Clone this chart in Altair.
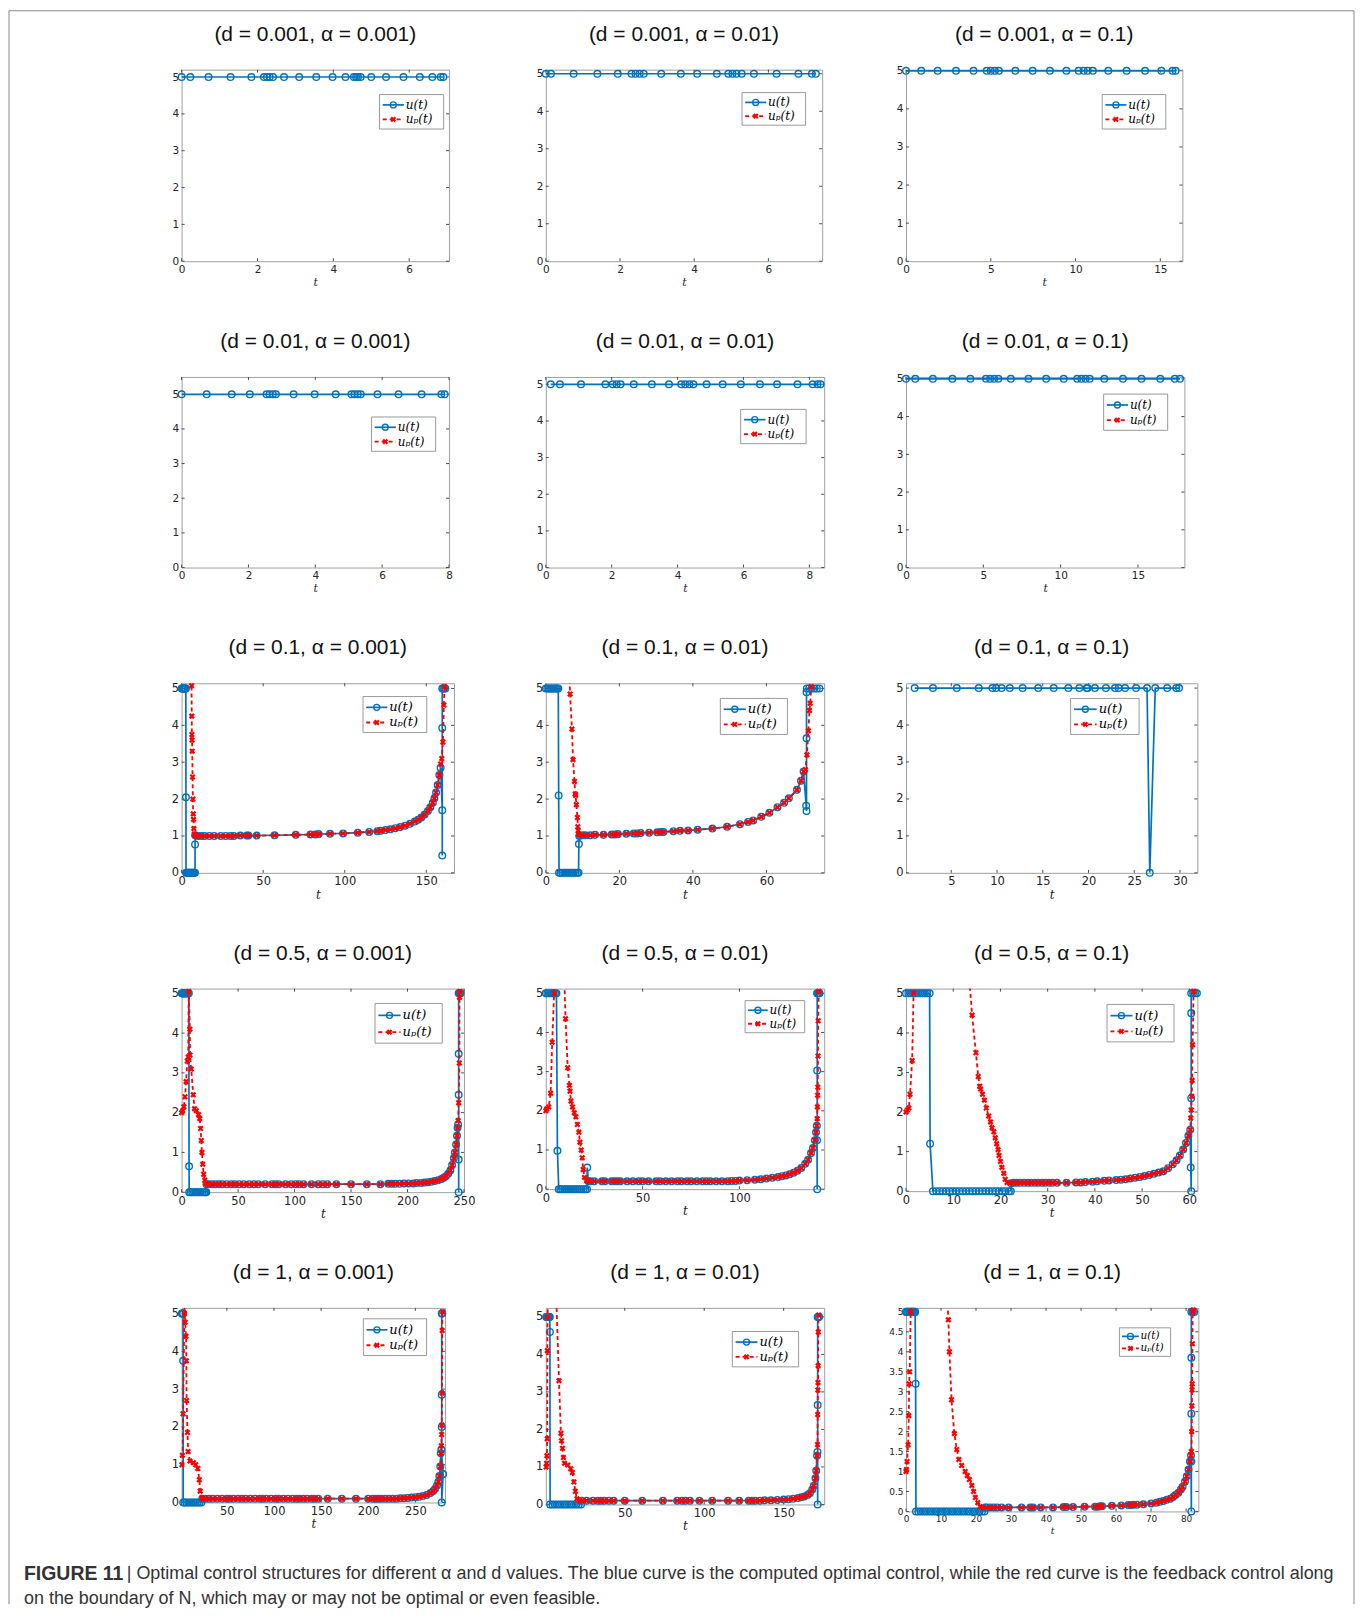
import altair as alt
import pandas as pd

BLUE = "#0072BD"
RED = "#FF0000"
XMARK = "M-1,-1L1,1M-1,1L1,-1"

TITLES = [
    ["(d = 0.001, α = 0.001)", "(d = 0.001, α = 0.01)", "(d = 0.001, α = 0.1)"],
    ["(d = 0.01, α = 0.001)", "(d = 0.01, α = 0.01)", "(d = 0.01, α = 0.1)"],
    ["(d = 0.1, α = 0.001)", "(d = 0.1, α = 0.01)", "(d = 0.1, α = 0.1)"],
    ["(d = 0.5, α = 0.001)", "(d = 0.5, α = 0.01)", "(d = 0.5, α = 0.1)"],
    ["(d = 1, α = 0.001)", "(d = 1, α = 0.01)", "(d = 1, α = 0.1)"],
]

# ---------------- row 1 ----------------
P11_TU = [0, 0.23, 0.71, 1.29, 1.84, 2.17, 2.25, 2.32, 2.41, 2.70, 3.10, 3.55, 3.98,
          4.32, 4.54, 4.60, 4.65, 4.72, 5.00, 5.39, 5.85, 6.28, 6.61, 6.83, 6.90]
P11_U = [5, 5, 5, 5, 5, 5, 5, 5, 5, 5, 5, 5, 5, 5, 5, 5, 5, 5, 5, 5, 5, 5, 5, 5, 5]

P12_TU = [0, 0.14, 0.75, 1.39, 1.94, 2.31, 2.42, 2.53, 2.64, 3.11, 3.64, 4.08, 4.61,
          4.92, 5.03, 5.14, 5.28, 5.61, 6.22, 6.81, 7.17, 7.28]
P12_U = [5, 5, 5, 5, 5, 5, 5, 5, 5, 5, 5, 5, 5, 5, 5, 5, 5, 5, 5, 5, 5, 5]

P13_TU = [0, 0.9, 1.87, 2.95, 3.98, 4.76, 5.0, 5.24, 5.48, 6.45, 7.47, 8.49, 9.46,
          10.18, 10.48, 10.72, 11.02, 11.93, 13.01, 14.1, 15.06, 15.72, 15.9]
P13_U = [5, 5, 5, 5, 5, 5, 5, 5, 5, 5, 5, 5, 5, 5, 5, 5, 5, 5, 5, 5, 5, 5, 5]

# ---------------- row 2 ----------------
P21_TU = [0, 0.75, 1.5, 2.04, 2.54, 2.63, 2.73, 2.82, 3.35, 3.98, 4.61, 5.08, 5.17,
          5.27, 5.36, 5.86, 6.49, 7.18, 7.77, 7.87]
P21_U = [5, 5, 5, 5, 5, 5, 5, 5, 5, 5, 5, 5, 5, 5, 5, 5, 5, 5, 5, 5]

P22_TU = [0.15, 0.43, 1.07, 1.81, 2.03, 2.15, 2.27, 2.67, 3.22, 3.74, 4.11, 4.23, 4.36,
          4.48, 4.88, 5.37, 5.92, 6.5, 7.02, 7.64, 8.1, 8.25, 8.34]
P22_U = [5, 5, 5, 5, 5, 5, 5, 5, 5, 5, 5, 5, 5, 5, 5, 5, 5, 5, 5, 5, 5, 5, 5]

P23_TU = [0, 0.6, 1.74, 3.0, 4.16, 5.17, 5.44, 5.7, 5.97, 6.78, 7.92, 9.06, 10.2,
          11.07, 11.34, 11.61, 11.88, 12.82, 14.03, 15.23, 16.44, 17.38, 17.72]
P23_U = [5, 5, 5, 5, 5, 5, 5, 5, 5, 5, 5, 5, 5, 5, 5, 5, 5, 5, 5, 5, 5, 5, 5]

# ---------------- row 3 ----------------
P31_MID_T = [10, 12, 14, 17, 20, 24, 27, 30, 32, 36, 40, 41, 46, 57, 70, 79, 82, 84, 91, 99,
             108, 115, 120, 122, 125, 128, 131, 134, 137, 140, 143, 145, 147, 149, 151, 152.5,
             154, 155, 156, 157, 158]
P31_MID_V = [1.00, 1.00, 1.00, 1.00, 1.00, 1.00, 1.00, 1.00, 1.00, 1.01, 1.01, 1.01, 1.01,
             1.02, 1.03, 1.04, 1.04, 1.05, 1.06, 1.07, 1.09, 1.11, 1.13, 1.14, 1.16, 1.18,
             1.21, 1.24, 1.28, 1.33, 1.39, 1.44, 1.50, 1.58, 1.68, 1.78, 1.90, 2.02, 2.18,
             2.38, 2.65]
P31_TU = [0, 0.4, 0.8, 1.2, 1.6, 2.0, 2.4, 2.6, 2.65, 2.7, 3.2, 3.7, 4.2, 4.7, 5.2, 5.7, 6.2,
          6.7, 7.2, 7.7, 8.2, 8.25, 8.3] + P31_MID_T + [158.8, 159.8, 159.8, 159.8, 159.8,
                                                         160.4, 161.0, 161.7]
P31_U = [5, 5, 5, 5, 5, 5, 5, 5, 2.05, 0, 0, 0, 0, 0, 0, 0, 0, 0, 0, 0, 0, 0.77, 1.02] \
    + P31_MID_V + [2.85, 1.7, 0.47, 3.93, 5, 5, 5, 5]
P31_TP = [5.9, 6.1, 6.2, 6.3, 6.4, 6.5, 6.7, 6.9, 7.1, 7.3, 7.5, 7.8, 8.3, 8.8] \
    + P31_MID_T + [158.8, 159.5, 160.2, 160.8, 161.2]
P31_UP = [6.0, 5.07, 4.25, 3.75, 3.6, 3.3, 2.6, 2.0, 1.6, 1.45, 1.2, 1.05, 1.02, 1.0] \
    + P31_MID_V + [2.95, 3.1, 3.55, 4.55, 5.05]

P32_MID_T = [10.0, 10.8, 12.1, 13.4, 15.7, 17.9, 18.8, 19.6, 21.9, 23.9, 24.8, 25.8, 28.1,
             30.3, 31.2, 32.0, 34.7, 36.5, 38.7, 41.3, 45.3, 49.3, 52.8, 55.0, 56.4, 58.6,
             60.8, 63.0, 64.8, 66.1, 68.3, 69.4, 70.1]
P32_MID_V = [1.02, 1.02, 1.02, 1.03, 1.03, 1.04, 1.04, 1.05, 1.06, 1.07, 1.07, 1.08, 1.09,
             1.10, 1.11, 1.11, 1.13, 1.14, 1.15, 1.17, 1.20, 1.25, 1.32, 1.38, 1.42, 1.52,
             1.63, 1.78, 1.90, 2.02, 2.25, 2.50, 2.75]
P32_TU = [0, 0.4, 0.8, 1.2, 1.6, 2.0, 2.4, 2.8, 3.1, 3.4, 3.5, 3.6, 4.0, 4.5, 5.0, 5.5, 6.0,
          6.5, 7.0, 7.5, 8.0, 8.5, 8.9, 9.0, 9.1] + P32_MID_T \
    + [70.8, 70.9, 70.9, 70.9, 71.0, 71.6, 72.3, 73.0, 73.7, 74.4]
P32_U = [5, 5, 5, 5, 5, 5, 5, 5, 5, 5, 2.1, 0, 0, 0, 0, 0, 0, 0, 0, 0, 0, 0, 0, 0.78, 1.0] \
    + P32_MID_V + [1.82, 1.68, 3.65, 4.9, 5, 5, 5, 5, 5, 5]
P32_TP = [6.2, 6.6, 7.1, 7.4, 7.8, 8.0, 8.1, 8.3, 8.6, 8.7, 8.8, 8.85, 9.1] + P32_MID_T \
    + [70.6, 71.0, 71.4, 71.7, 71.9, 72.2]
P32_UP = [6.0, 4.85, 3.9, 3.07, 2.48, 2.14, 2.1, 1.85, 1.5, 1.25, 1.15, 1.05, 1.02] \
    + P32_MID_V + [2.8, 3.2, 3.85, 4.4, 4.6, 5.05]

P33_TU = [1.0, 3.0, 5.6, 8.0, 9.5, 9.9, 10.5, 11.4, 12.8, 14.5, 16.2, 17.8, 19.0, 19.8, 19.9,
          20.7, 21.9, 22.9, 23.3, 24.0, 25.2, 26.4, 26.7, 27.3, 28.6, 29.6, 29.9]
P33_U = [5, 5, 5, 5, 5, 5, 5, 5, 5, 5, 5, 5, 5, 5, 5, 5, 5, 5, 5, 5, 5, 5, 0, 5, 5, 5, 5]

# ---------------- row 4 ----------------
P41_MID_T = [24, 27, 30, 33, 36, 40, 44, 47, 51, 55, 60, 64, 68, 74, 80, 83, 86, 92, 97, 101,
             104, 108, 115, 121, 125, 129, 137, 150, 164, 176, 183, 186, 189, 193, 197, 201,
             205, 208, 212, 215, 218, 221, 224, 227, 230, 232, 234, 236, 238, 239.5, 241,
             242, 243, 243.8, 244.3]
P41_MID_V = [0.2, 0.2, 0.2, 0.2, 0.2, 0.2, 0.2, 0.2, 0.2, 0.2, 0.2, 0.2, 0.2, 0.2, 0.2, 0.2,
             0.2, 0.2, 0.2, 0.2, 0.2, 0.2, 0.2, 0.2, 0.2, 0.2, 0.2, 0.2, 0.2, 0.2, 0.21, 0.21,
             0.21, 0.21, 0.22, 0.22, 0.22, 0.23, 0.23, 0.24, 0.25, 0.26, 0.28, 0.30, 0.33,
             0.36, 0.40, 0.46, 0.55, 0.68, 0.85, 1.0, 1.2, 1.42, 1.62]
P41_TU = [0, 0.8, 1.6, 2.4, 3.2, 4.0, 4.8, 5.6, 6.4, 6.6, 6.7, 8, 9.5, 11, 12.5, 14, 15.5, 17,
          18.5, 20, 21, 21.8, 22] + P41_MID_T \
    + [244.8, 245.3, 245.3, 245.3, 245.3, 245.3, 246.2, 247]
P41_U = [5, 5, 5, 5, 5, 5, 5, 5, 5, 0.65, 0, 0, 0, 0, 0, 0, 0, 0, 0, 0, 0, 0, 0.2] \
    + P41_MID_V + [1.7, 0.82, 0, 2.45, 3.48, 5, 5, 5]
P41_TP = [0, 1, 2, 3, 4, 5, 5.8, 6.3, 7.3, 7.4, 8.5, 10.3, 11.4, 13, 15, 16, 16.8, 17.4, 18,
          18.7, 19.5, 20.5, 21.5, 23] + P41_MID_T + [244.8, 245.3, 245.9, 246.0, 246.3]
P41_UP = [2.0, 2.05, 2.15, 2.4, 2.78, 3.3, 3.4, 5.05, 4.1, 3.45, 3.1, 2.45, 2.1, 2.05, 1.95,
          1.85, 1.6, 1.3, 1.0, 0.7, 0.45, 0.3, 0.22, 0.2] + P41_MID_V \
    + [1.8, 2.25, 3.25, 4.9, 5.05]

P42_MID_T = [23, 25, 29, 30.5, 34, 35.5, 37, 38.5, 42, 45, 48, 50, 53, 57, 59, 62, 65, 68, 70,
             73, 75, 78, 81, 83, 85, 88, 91, 94, 96, 98, 100, 104, 108, 111, 114, 117, 120,
             122, 124, 126, 128, 130, 132, 134, 135.5, 137, 138, 139, 139.6, 140]
P42_MID_V = [0.2, 0.2, 0.2, 0.2, 0.2, 0.2, 0.2, 0.2, 0.2, 0.2, 0.2, 0.2, 0.2, 0.2, 0.2, 0.2,
             0.2, 0.2, 0.2, 0.2, 0.2, 0.2, 0.2, 0.2, 0.2, 0.2, 0.2, 0.2, 0.21, 0.21, 0.22,
             0.23, 0.24, 0.25, 0.27, 0.29, 0.31, 0.33, 0.35, 0.38, 0.42, 0.47, 0.54, 0.65,
             0.75, 0.92, 1.05, 1.25, 1.45, 1.62]
P42_TU = [0, 0.8, 1.6, 2.4, 3.2, 4.0, 4.8, 5.5, 6.0, 6.7, 7.5, 8.5, 9.5, 10.5, 11.5, 12.5,
          13.5, 14.5, 15.5, 16.5, 17.5, 18.5, 19.5, 20.5, 21.3, 21.4, 22.0] + P42_MID_T \
    + [140.1, 140.2, 140.2, 140.2, 140.3, 140.9, 141.4]
P42_U = [5, 5, 5, 5, 5, 5, 5, 5, 0.98, 0, 0, 0, 0, 0, 0, 0, 0, 0, 0, 0, 0, 0, 0, 0, 0, 0.55,
         0.2] + P42_MID_V + [1.25, 0, 3.03, 5, 5, 5, 5]
P42_TP = [0, 0.5, 1.5, 2.5, 3.3, 4.3, 4.8, 9.2, 10.2, 11.3, 12.2, 12.5, 13.0, 13.8, 14.7,
          15.5, 16.3, 17.1, 17.6, 18.3, 18.8, 19.3, 20.0, 21.0, 22.0] + P42_MID_T \
    + [140.2, 140.3, 140.4, 140.5, 140.6, 140.7, 141.0]
P42_UP = [2.0, 2.05, 2.1, 2.45, 3.75, 5.0, 6.0, 6.0, 4.35, 3.1, 2.65, 2.5, 2.25, 2.1, 1.95,
          1.85, 1.65, 1.45, 1.2, 1.0, 0.8, 0.5, 0.3, 0.22, 0.2] + P42_MID_V \
    + [1.8, 2.1, 2.4, 2.6, 3.4, 4.3, 5.05]

P43_MID_T = [22.8, 23.5, 24.2, 25, 25.8, 26.5, 27.3, 28, 28.8, 29.5, 30.3, 31, 32, 34, 36,
             37, 38, 39.5, 40.5, 42, 43, 44.5, 45.5, 46.5, 47.5, 48.5, 49.5, 50.5, 51.5, 52.5,
             53.5, 54.5, 55.5, 56.5, 57.3, 58, 58.7, 59.3, 59.8, 60.2]
P43_MID_V = [0.21, 0.21, 0.21, 0.21, 0.21, 0.21, 0.21, 0.21, 0.21, 0.21, 0.21, 0.21, 0.21,
             0.21, 0.22, 0.22, 0.23, 0.24, 0.25, 0.26, 0.27, 0.28, 0.29, 0.30, 0.32, 0.34,
             0.36, 0.38, 0.41, 0.44, 0.47, 0.5, 0.58, 0.68, 0.78, 0.9, 1.05, 1.22, 1.4, 1.55]
P43_TU = [0, 0.5, 1, 1.5, 2, 2.5, 3, 3.5, 4, 4.5, 5.0, 5.1, 5.7, 6.4, 7.1, 7.8, 8.5, 9.2, 9.9,
          10.6, 11.3, 12.0, 12.7, 13.4, 14.1, 14.8, 15.5, 16.2, 16.9, 17.6, 18.3, 19.0, 19.7,
          20.4, 21.1, 21.8, 22.2, 22.3] + P43_MID_T \
    + [60.3, 60.4, 60.4, 60.4, 60.4, 60.8, 61.2, 61.6]
P43_U = [5, 5, 5, 5, 5, 5, 5, 5, 5, 5, 5, 1.2, 0, 0, 0, 0, 0, 0, 0, 0, 0, 0, 0, 0, 0, 0, 0, 0,
         0, 0, 0, 0, 0, 0, 0, 0, 0, 0.2] + P43_MID_V + [0.6, 0, 2.35, 4.5, 5, 5, 5, 5]
P43_TP = [0, 0.3, 0.6, 0.85, 1.3, 1.6, 2.0, 13.0, 14.0, 14.8, 15.3, 15.6, 15.8, 16.2, 16.6,
          17.0, 17.5, 17.9, 18.2, 18.6, 18.9, 19.2, 19.5, 19.7, 20.0, 20.3, 20.7, 21.0, 21.4,
          22.0] + P43_MID_T + [60.3, 60.4, 60.5, 60.6, 60.7, 60.9]
P43_UP = [2.0, 2.05, 2.1, 2.45, 3.3, 5.0, 6.0, 6.0, 4.45, 3.5, 2.9, 2.65, 2.58, 2.45, 2.3,
          2.1, 1.9, 1.75, 1.6, 1.5, 1.35, 1.2, 1.05, 0.9, 0.75, 0.6, 0.45, 0.3, 0.22, 0.2] \
    + P43_MID_V + [1.85, 2.05, 2.4, 2.8, 3.7, 5.05]

# ---------------- row 5 ----------------
P51_MID_T = [27, 31, 35, 40, 45, 50, 53, 57, 62, 66, 70, 75, 80, 85, 88, 92, 97, 102, 105, 110,
             115, 120, 124, 127, 131, 135, 140, 143, 147, 157, 172, 187, 200, 205, 208, 211,
             214, 218, 222, 226, 230, 234, 238, 242, 246, 250, 254, 258, 262, 266, 269, 271,
             273, 274.5, 275.5, 276.5, 277]
P51_MID_V = [0.1, 0.1, 0.1, 0.1, 0.1, 0.1, 0.1, 0.1, 0.1, 0.1, 0.1, 0.1, 0.1, 0.1, 0.1, 0.1,
             0.1, 0.1, 0.1, 0.1, 0.1, 0.1, 0.1, 0.1, 0.1, 0.1, 0.1, 0.1, 0.1, 0.1, 0.1, 0.1,
             0.1, 0.1, 0.1, 0.1, 0.1, 0.1, 0.1, 0.1, 0.1, 0.11, 0.11, 0.12, 0.13, 0.14, 0.15,
             0.17, 0.2, 0.25, 0.3, 0.36, 0.45, 0.55, 0.7, 0.95, 1.3]
P51_TU = [2.3, 2.8, 3.2, 3.5, 3.6, 3.7, 5, 7, 9, 11, 13, 15, 17, 19, 21, 23, 24] + P51_MID_T \
    + [277.6, 279.5, 278.0, 278.0, 278.0, 278.0, 278.6]
P51_U = [5, 5, 5, 5, 3.75, 0, 0, 0, 0, 0, 0, 0, 0, 0, 0, 0, 0.1] + P51_MID_V \
    + [1.4, 0.75, 0, 2.0, 2.85, 5.0, 5.0]
P51_TP = [2.3, 2.8, 3.5, 5.0, 5.3, 5.7, 6.7, 7.0, 7.3, 8.2, 8.9, 10.8, 14.5, 17.0, 19.2, 20.8,
          21.7, 23.3, 24.5] + P51_MID_T + [277.6, 277.9, 278.1, 278.3, 278.5, 278.8]
P51_UP = [1.0, 1.25, 2.35, 5.0, 6.0, 4.77, 4.4, 3.75, 2.7, 1.85, 1.35, 1.1, 1.05, 1.0, 0.9,
          0.6, 0.3, 0.12, 0.1] + P51_MID_V + [1.5, 1.8, 2.05, 2.9, 4.55, 5.05]

P52_MID_T = [26, 30, 33, 35, 37, 40, 43, 50, 61, 74, 83, 86, 88, 91, 97, 105, 115, 122, 128,
             130, 132, 135, 138, 142, 146, 150, 153, 156, 159, 161, 163, 165, 166.5, 168, 169,
             170, 170.5, 171]
P52_MID_V = [0.1, 0.1, 0.1, 0.1, 0.1, 0.1, 0.1, 0.1, 0.1, 0.1, 0.1, 0.1, 0.1, 0.1, 0.1, 0.1,
             0.1, 0.1, 0.1, 0.1, 0.1, 0.1, 0.11, 0.11, 0.12, 0.13, 0.14, 0.15, 0.17, 0.19,
             0.21, 0.25, 0.3, 0.4, 0.5, 0.7, 0.9, 1.3]
P52_TU = [0.5, 1.0, 1.5, 2.0, 2.5, 2.8, 2.9, 3.0, 4.5, 6, 7.5, 9, 10.5, 12, 13.5, 15, 16.5, 18,
          19.5, 21, 22.5, 22.8] + P52_MID_T + [171.3, 171.4, 171.4, 171.4, 171.8, 172.3]
P52_U = [5, 5, 5, 5, 5, 5, 4.6, 0, 0, 0, 0, 0, 0, 0, 0, 0, 0, 0, 0, 0, 0, 0.1] + P52_MID_V \
    + [1.4, 0, 2.65, 5.0, 5.0, 5.0]
P52_TP = [0.5, 0.8, 1.0, 1.2, 1.3, 1.4, 2.0, 6.5, 8.6, 9.8, 10.2, 10.8, 11.4, 12.1, 14.1,
          16.0, 17.0, 18.0, 18.9, 19.9, 21.8, 23.0] + P52_MID_T \
    + [171.3, 171.4, 171.5, 171.6, 171.7, 171.8, 172.0]
P52_UP = [1.0, 1.1, 1.3, 1.75, 4.1, 5.0, 6.0, 6.0, 3.3, 1.9, 1.7, 1.5, 1.25, 1.1, 1.05, 0.95,
          0.85, 0.6, 0.35, 0.15, 0.1, 0.1] + P52_MID_V + [1.6, 2.4, 3.05, 3.25, 3.7, 4.6, 5.05]

P53_MID_T = [23, 24, 25, 26, 27.3, 29.3, 33, 35.5, 36.3, 38.5, 42, 45, 45.8, 47.7, 51, 54,
             54.8, 55.5, 56, 58.8, 61.5, 63.5, 64.3, 65, 66, 67.8, 70, 71.5, 72.5, 73.5, 74.5,
             75.5, 76.3, 77, 77.8, 78.5, 79, 79.7, 80.2, 80.7, 81.1, 81.4]
P53_MID_V = [0.1, 0.1, 0.1, 0.1, 0.1, 0.1, 0.1, 0.1, 0.1, 0.1, 0.1, 0.11, 0.11, 0.11, 0.12,
             0.12, 0.12, 0.13, 0.13, 0.14, 0.15, 0.16, 0.16, 0.17, 0.17, 0.18, 0.2, 0.22, 0.24,
             0.26, 0.29, 0.32, 0.36, 0.41, 0.47, 0.55, 0.62, 0.75, 0.88, 1.05, 1.25, 1.4]
P53_TU = [0, 0.3, 0.6, 0.9, 1.2, 1.5, 1.8, 2.1, 2.4, 2.6, 2.75, 2.85, 3.5, 4.2, 4.9, 5.6, 6.3,
          7, 7.7, 8.4, 9.1, 9.8, 10.5, 11.2, 11.9, 12.6, 13.3, 14, 14.7, 15.4, 16.1, 16.8,
          17.5, 18.2, 18.9, 19.6, 20.3, 21, 21.7, 22.4, 22.6] + P53_MID_T \
    + [81.5, 81.5, 81.5, 81.5, 81.5, 81.9, 82.3]
P53_U = [5, 5, 5, 5, 5, 5, 5, 5, 5, 5, 3.2, 0, 0, 0, 0, 0, 0, 0, 0, 0, 0, 0, 0, 0, 0, 0, 0, 0,
         0, 0, 0, 0, 0, 0, 0, 0, 0, 0, 0, 0, 0.1] + P53_MID_V + [0, 1.25, 2.45, 3.85, 5, 5, 5]
P53_TP = [0, 0.15, 0.3, 0.6, 0.8, 0.9, 1.05, 1.35, 1.8, 11.5, 12.1, 12.4, 13.0, 13.8, 14.5,
          15.1, 15.9, 16.9, 17.5, 18.1, 18.8, 19.3, 19.8, 20.5, 21.2, 22.0] + P53_MID_T \
    + [81.5, 81.6, 81.65, 81.7, 81.75, 81.8, 81.9, 82.1]
P53_UP = [1.0, 1.05, 1.25, 1.67, 2.4, 3.2, 3.5, 5.0, 6.0, 6.0, 4.8, 4.0, 2.8, 1.95, 1.55, 1.3,
          1.15, 1.0, 0.9, 0.8, 0.65, 0.5, 0.35, 0.22, 0.12, 0.1] + P53_MID_V \
    + [1.5, 2.0, 2.65, 3.05, 3.2, 4.2, 5.0, 5.05]

# ---------------- axes ----------------
T_2 = [0, 2, 4, 6]
T_2B = [0, 2, 4, 6, 8]
T_5 = [0, 5, 10, 15]
Y_1 = [0, 1, 2, 3, 4, 5]
Y_HALF = [0, 0.5, 1, 1.5, 2, 2.5, 3, 3.5, 4, 4.5, 5]

CAPTION_BOLD = "FIGURE 11"
CAPTION_L1 = ("| Optimal control structures for different α and d values. The blue curve is the "
              "computed optimal control, while the red curve is the feedback control along")
CAPTION_L2 = "on the boundary of N, which may or may not be optimal or even feasible."

EMPTY = []

PANELS = [
    [dict(tu=P11_TU, u=P11_U, tp=EMPTY, up=EMPTY, xd=[0, 7.05], xt=T_2, ym=5.2, yt=Y_1,
          w=268, h=192, leg=(0.74, 0.98, 0.13, 0.31), lf=12, tf=10.5),
     dict(tu=P12_TU, u=P12_U, tp=EMPTY, up=EMPTY, xd=[0, 7.45], xt=T_2, ym=5.11, yt=Y_1,
          w=277, h=192, leg=(0.71, 0.94, 0.12, 0.29), lf=12, tf=10.5),
     dict(tu=P13_TU, u=P13_U, tp=EMPTY, up=EMPTY, xd=[0, 16.3], xt=T_5, ym=5.03, yt=Y_1,
          w=277, h=192, leg=(0.71, 0.94, 0.13, 0.31), lf=12, tf=10.5)],
    [dict(tu=P21_TU, u=P21_U, tp=EMPTY, up=EMPTY, xd=[0, 8.0], xt=T_2B, ym=5.5, yt=Y_1,
          w=268, h=191, leg=(0.71, 0.95, 0.21, 0.39), lf=12, tf=10.5),
     dict(tu=P22_TU, u=P22_U, tp=EMPTY, up=EMPTY, xd=[0, 8.45], xt=T_2B, ym=5.2, yt=Y_1,
          w=279, h=191, leg=(0.70, 0.935, 0.17, 0.35), lf=12, tf=10.5),
     dict(tu=P23_TU, u=P23_U, tp=EMPTY, up=EMPTY, xd=[0, 18], xt=T_5, ym=5.05, yt=Y_1,
          w=279, h=191, leg=(0.71, 0.94, 0.09, 0.28), lf=12, tf=10.5)],
    [dict(tu=P31_TU, u=P31_U, tp=P31_TP, up=P31_UP, xd=[0, 167], xt=[0, 50, 100, 150],
          ym=5.14, yt=Y_1, w=273, h=190, leg=(0.666, 0.90, 0.07, 0.26), lf=13, tf=11.5),
     dict(tu=P32_TU, u=P32_U, tp=P32_TP, up=P32_UP, xd=[0, 75.7], xt=[0, 20, 40, 60],
          ym=5.14, yt=Y_1, w=279, h=190, leg=(0.627, 0.868, 0.08, 0.27), lf=13, tf=11.5),
     dict(tu=P33_TU, u=P33_U, tp=EMPTY, up=EMPTY, xd=[0.05, 31.9], xt=[5, 10, 15, 20, 25, 30],
          ym=5.13, yt=Y_1, w=292, h=190, leg=(0.565, 0.80, 0.08, 0.27), lf=13, tf=11.5)],
    [dict(tu=P41_TU, u=P41_U, tp=P41_TP, up=P41_UP, xd=[0, 250], xt=[0, 50, 100, 150, 200, 250],
          ym=5.12, yt=Y_1, w=283, h=204, leg=(0.685, 0.923, 0.073, 0.268), lf=13, tf=11.5),
     dict(tu=P42_TU, u=P42_U, tp=P42_TP, up=P42_UP, xd=[0, 143.8], xt=[0, 50, 100],
          ym=5.12, yt=Y_1, w=279, h=201, leg=(0.716, 0.93, 0.06, 0.22), lf=12, tf=11.5),
     dict(tu=P43_TU, u=P43_U, tp=P43_TP, up=P43_UP, xd=[0, 61.7],
          xt=[0, 10, 20, 30, 40, 50, 60], ym=5.12, yt=Y_1, w=292, h=203,
          leg=(0.69, 0.92, 0.078, 0.263), lf=13, tf=11.5)],
    [dict(tu=P51_TU, u=P51_U, tp=P51_TP, up=P51_UP, xd=[2, 281.5], xt=[50, 100, 150, 200, 250],
          ym=5.15, yt=Y_1, w=264, h=195, leg=(0.69, 0.93, 0.056, 0.245), lf=13, tf=11.5),
     dict(tu=P52_TU, u=P52_U, tp=P52_TP, up=P52_UP, xd=[0.3, 175.5], xt=[50, 100, 150],
          ym=5.24, yt=Y_1, w=279, h=197, leg=(0.67, 0.908, 0.12, 0.30), lf=13, tf=11.5),
     dict(tu=P53_TU, u=P53_U, tp=P53_TP, up=P53_UP, xd=[0, 83.5],
          xt=[0, 10, 20, 30, 40, 50, 60, 70, 80], ym=5.1, yt=Y_HALF, w=293, h=204,
          leg=(0.73, 0.905, 0.098, 0.238), lf=10.5, tf=9)],
]


def frame(t, v):
    if len(t) != len(v):
        raise ValueError(f"length mismatch {len(t)} vs {len(v)}")
    return pd.DataFrame({"t": t, "v": v, "i": list(range(len(t)))})


ONE = alt.Data(values=[{}])
TICK = dict(color="#4d4d4d", strokeWidth=1)


def txt(x, y, s, **kw):
    return alt.Chart(ONE).mark_text(**kw).encode(
        x=alt.value(x), y=alt.value(y), text=alt.value(s))


def legend(w, h, box, fs):
    x0, x1, y0, y1 = box[0] * w, box[1] * w, box[2] * h, box[3] * h
    bw, bh = x1 - x0, y1 - y0
    ya, yb = y0 + bh * 0.30, y0 + bh * 0.72
    lx0, lx1 = x0 + 0.05 * bw, x0 + 0.38 * bw
    mx = (lx0 + lx1) / 2
    tx = x0 + 0.41 * bw
    box_l = alt.Chart(ONE).mark_rect(fill="white", stroke="#9a9a9a", strokeWidth=1).encode(
        x=alt.value(x0), x2=alt.value(x1), y=alt.value(y0), y2=alt.value(y1))
    r1 = alt.Chart(ONE).mark_rule(color=BLUE, strokeWidth=1.7).encode(
        x=alt.value(lx0), x2=alt.value(lx1), y=alt.value(ya))
    p1 = alt.Chart(ONE).mark_point(shape="circle", filled=False, color=BLUE, size=36,
                                   strokeWidth=1.4, opacity=1).encode(
        x=alt.value(mx), y=alt.value(ya))
    r2 = alt.Chart(ONE).mark_rule(color=RED, strokeWidth=1.8, strokeDash=[4, 3]).encode(
        x=alt.value(lx0), x2=alt.value(lx1), y=alt.value(yb))
    p2 = alt.Chart(ONE).mark_point(shape=XMARK, filled=False, color=RED, size=18,
                                   strokeWidth=2.2, opacity=1).encode(
        x=alt.value(mx), y=alt.value(yb))
    style = dict(align="left", baseline="middle", font="DejaVu Serif", fontStyle="italic",
                 fontSize=fs, color="#000")
    return [box_l, r1, p1, r2, p2, txt(tx, ya, "u(t)", **style), txt(tx, yb, "uₚ(t)", **style)]


def decorations():
    # figure frame and caption, placed relative to the first panel's plot origin
    grey = dict(color="#8a8a8a", strokeWidth=1)
    cap = dict(align="left", baseline="middle", font="Liberation Sans", fontSize=18,
               color="#333333")
    return [
        alt.Chart(ONE).mark_rule(**grey).encode(
            x=alt.value(-173), x2=alt.value(1175), y=alt.value(-59)),
        alt.Chart(ONE).mark_rule(**grey).encode(
            x=alt.value(-173), y=alt.value(-59), y2=alt.value(1538)),
        alt.Chart(ONE).mark_rule(**grey).encode(
            x=alt.value(1175), y=alt.value(-59), y2=alt.value(1538)),
        txt(-158, 1508, CAPTION_BOLD, align="left", baseline="middle", font="Liberation Sans",
            fontSize=19.5, fontWeight="bold", color="#333333"),
        txt(-55, 1508, CAPTION_L1, **cap),
        txt(-158, 1533, CAPTION_L2, **cap),
    ]


def panel(spec, title, extra=()):
    w, h, ym = spec["w"], spec["h"], spec["ym"]
    xs = alt.Scale(domain=spec["xd"], nice=False, zero=False)
    ys = alt.Scale(domain=[0, ym], nice=False, zero=False)
    xax = alt.Axis(values=spec["xt"], tickCount=40, format="~g", title="t",
                   labelFontSize=spec["tf"], titleFont="DejaVu Serif",
                   titleFontStyle="italic", titleFontWeight="normal",
                   titleFontSize=spec["tf"] + 0.5, titlePadding=2, labelPadding=3,
                   labelOverlap=False, labelFlush=False)
    yax = alt.Axis(values=spec["yt"], tickCount=40, format="~g", title=None,
                   labelFontSize=spec["tf"], labelPadding=3, labelOverlap=False,
                   labelFlush=False)
    du = frame(spec["tu"], spec["u"])
    xt = pd.DataFrame({"t": spec["xt"]})
    yt = pd.DataFrame({"v": spec["yt"]})
    layers = [
        alt.Chart(du).mark_line(color=BLUE, strokeWidth=1.7, clip=True).encode(
            x=alt.X("t:Q", scale=xs, axis=xax), y=alt.Y("v:Q", scale=ys, axis=yax),
            order=alt.Order("i:Q")),
        # inward ticks on all four sides of the box
        alt.Chart(xt).mark_rule(**TICK).encode(x="t:Q", y=alt.value(h), y2=alt.value(h - 3)),
        alt.Chart(xt).mark_rule(**TICK).encode(x="t:Q", y=alt.value(0), y2=alt.value(3)),
        alt.Chart(yt).mark_rule(**TICK).encode(y="v:Q", x=alt.value(0), x2=alt.value(3)),
        alt.Chart(yt).mark_rule(**TICK).encode(y="v:Q", x=alt.value(w), x2=alt.value(w - 3)),
        alt.Chart(du[du.v <= ym]).mark_point(shape="circle", filled=False, color=BLUE,
                                            size=44, strokeWidth=1.4, opacity=1).encode(
            x="t:Q", y="v:Q"),
    ]
    if len(spec["tp"]):
        dp = frame(spec["tp"], spec["up"])
        layers += [
            alt.Chart(dp).mark_line(color=RED, strokeWidth=1.8, strokeDash=[4, 3],
                                    clip=True).encode(
                x="t:Q", y="v:Q", order=alt.Order("i:Q")),
            alt.Chart(dp[dp.v <= ym]).mark_point(shape=XMARK, filled=False, color=RED,
                                                size=20, strokeWidth=2.2, opacity=1).encode(
                x="t:Q", y="v:Q"),
        ]
    layers += legend(w, h, spec["leg"], spec["lf"])
    layers.append(txt(w / 2, -35, title, align="center", baseline="middle",
                      font="Liberation Sans", fontSize=21, color="#111111"))
    layers += list(extra)
    return alt.layer(*layers).properties(width=w, height=h)


charts = []
for r in range(5):
    for c in range(3):
        extra = decorations() if (r == 0 and c == 0) else ()
        charts.append(panel(PANELS[r][c], TITLES[r][c], extra))

chart = alt.concat(*charts, columns=3, bounds="flush", align="each",
                   spacing={"row": 116, "column": 82}).properties(
    padding=0
).configure_view(stroke="#a0a0a0", strokeWidth=1).configure_axis(
    domain=False, ticks=False, grid=False, labelFont="DejaVu Sans", labelColor="#262626",
    titleColor="#262626", labelFlush=False, labelOverlap=False
)

chart.save("out.html", embed_options={"renderer": "svg", "actions": False})
